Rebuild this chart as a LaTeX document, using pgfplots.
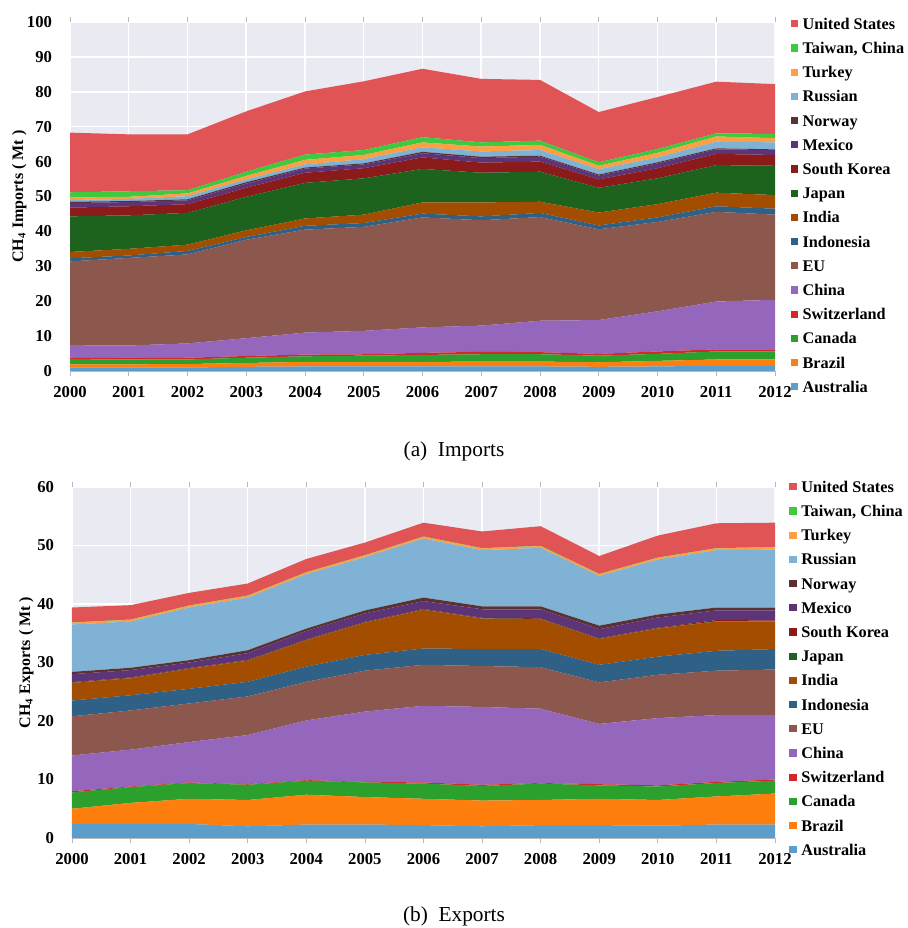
\documentclass[border=0pt]{standalone}
\usepackage{pgfplots}
\pgfplotsset{compat=1.18}
\usepackage{pgfplotstable}
\usepackage{fontspec}
\setmainfont{Liberation Serif}

% Layer colours
\definecolor{cAus}{HTML}{5B9DCB}
\definecolor{cBra}{HTML}{FF7F0E}
\definecolor{cCan}{HTML}{2CA02C}
\definecolor{cSwi}{HTML}{D62728}
\definecolor{cChn}{HTML}{9467BD}
\definecolor{cEU}{HTML}{8C574C}
\definecolor{cIdn}{HTML}{2E6185}
\definecolor{cInd}{HTML}{A34D00}
\definecolor{cJpn}{HTML}{1D621D}
\definecolor{cKor}{HTML}{8B1A1A}
\definecolor{cMex}{HTML}{5E3479}
\definecolor{cNor}{HTML}{5A3232}
\definecolor{cRus}{HTML}{7FB2D5}
\definecolor{cTur}{HTML}{FCA043}
\definecolor{cTwn}{HTML}{3FC93F}
\definecolor{cUSA}{HTML}{E15456}
\definecolor{bgc}{HTML}{EAEAF2}

% CH4 imports by importer (Mt), layer thickness per year
\pgfplotstableread{
year aus bra can swi chn eu idn ind jpn kor mex nor rus tur twn usa
2000 1.0 0.9 1.5 0.4 3.6 24.0 0.9 1.8 10.2 2.5 1.3 0.4 0.5 0.7 1.5 17.1
2001 1.0 0.9 1.4 0.4 3.6 25.1 0.7 1.9 9.6 2.6 1.2 0.3 0.6 0.6 1.6 16.3
2002 1.0 1.0 1.3 0.5 4.1 25.5 1.0 1.8 9.1 2.5 1.1 0.3 0.9 0.8 0.9 16.0
2003 1.2 1.1 1.5 0.5 5.1 28.2 0.8 1.9 9.6 2.6 1.2 0.4 0.8 1.0 1.2 17.3
2004 1.3 1.3 1.6 0.5 6.3 29.5 1.1 2.1 10.2 2.9 1.2 0.3 0.9 1.3 1.5 18.1
2005 1.3 1.3 1.8 0.4 6.7 29.8 1.1 2.4 10.4 2.9 1.1 0.3 1.2 1.2 1.4 19.7
2006 1.3 1.3 2.0 0.6 7.3 31.5 1.1 3.2 9.6 3.3 1.2 0.4 1.3 1.4 1.5 19.6
2007 1.3 1.4 2.1 0.7 7.5 30.2 1.1 4.0 8.5 2.9 1.3 0.4 1.5 1.4 1.2 18.2
2008 1.3 1.4 2.1 0.6 9.0 29.7 1.2 3.2 8.6 2.9 1.4 0.3 1.6 1.5 1.2 17.4
2009 1.2 1.3 1.9 0.5 9.7 26.0 1.1 3.7 7.1 2.4 1.1 0.3 1.5 1.0 1.0 14.4
2010 1.3 1.6 2.0 0.7 11.5 25.6 1.3 3.8 7.4 2.9 1.4 0.3 1.4 1.3 1.1 14.9
2011 1.5 1.8 2.3 0.6 13.7 25.7 1.6 3.9 7.9 3.2 1.3 0.3 1.9 1.5 0.9 14.8
2012 1.5 1.8 2.3 0.6 14.2 24.4 1.7 3.9 8.4 3.1 1.4 0.2 2.0 1.2 1.2 14.3
}\imports

% CH4 exports by exporter (Mt), layer thickness per year
\pgfplotstableread{
year aus bra can swi chn eu idn ind jpn kor mex nor rus tur twn usa
2000 2.4 2.6 2.8 0.2 6.1 6.7 2.7 3.0 0.05 0.10 1.35 0.4 8.1 0.3 0.05 2.55
2001 2.4 3.6 2.7 0.1 6.3 6.7 2.6 2.9 0.05 0.10 1.25 0.4 7.9 0.3 0.05 2.45
2002 2.4 4.3 2.7 0.1 6.9 6.6 2.5 3.4 0.05 0.10 0.95 0.4 9.0 0.3 0.05 2.15
2003 2.0 4.5 2.6 0.1 8.4 6.6 2.5 3.6 0.05 0.10 1.15 0.5 9.0 0.3 0.05 2.05
2004 2.3 5.1 2.4 0.1 10.2 6.6 2.6 4.5 0.05 0.10 1.45 0.4 9.3 0.3 0.05 2.25
2005 2.3 4.7 2.5 0.1 12.0 7.0 2.7 5.5 0.05 0.10 1.45 0.5 9.1 0.3 0.05 2.15
2006 2.2 4.5 2.6 0.2 13.1 7.0 2.8 6.6 0.05 0.10 1.35 0.6 10.1 0.3 0.05 2.35
2007 2.0 4.4 2.5 0.2 13.3 7.0 2.9 5.2 0.05 0.10 1.45 0.5 9.6 0.3 0.05 2.85
2008 2.2 4.3 2.8 0.1 12.7 7.1 3.1 5.1 0.05 0.10 1.55 0.5 10.0 0.3 0.05 3.35
2009 2.2 4.5 2.3 0.2 10.3 7.1 3.0 4.4 0.05 0.10 1.55 0.6 8.5 0.3 0.05 3.05
2010 2.1 4.4 2.3 0.2 11.5 7.4 3.1 4.8 0.05 0.10 1.75 0.5 9.4 0.3 0.05 3.75
2011 2.3 4.8 2.3 0.2 11.4 7.6 3.4 5.0 0.05 0.20 1.65 0.5 9.8 0.3 0.05 4.25
2012 2.3 5.3 2.2 0.2 11.0 7.8 3.5 4.7 0.05 0.15 1.70 0.5 9.9 0.4 0.05 4.15
}\exports

% all sixteen stacked layers of one table
\newcommand{\layers}[1]{%
  \addplot[fill=cAus] table[x=year,y=aus]{#1} \closedcycle;
  \addplot[fill=cBra] table[x=year,y=bra]{#1} \closedcycle;
  \addplot[fill=cCan] table[x=year,y=can]{#1} \closedcycle;
  \addplot[fill=cSwi] table[x=year,y=swi]{#1} \closedcycle;
  \addplot[fill=cChn] table[x=year,y=chn]{#1} \closedcycle;
  \addplot[fill=cEU]  table[x=year,y=eu]{#1}  \closedcycle;
  \addplot[fill=cIdn] table[x=year,y=idn]{#1} \closedcycle;
  \addplot[fill=cInd] table[x=year,y=ind]{#1} \closedcycle;
  \addplot[fill=cJpn] table[x=year,y=jpn]{#1} \closedcycle;
  \addplot[fill=cKor] table[x=year,y=kor]{#1} \closedcycle;
  \addplot[fill=cMex] table[x=year,y=mex]{#1} \closedcycle;
  \addplot[fill=cNor] table[x=year,y=nor]{#1} \closedcycle;
  \addplot[fill=cRus] table[x=year,y=rus]{#1} \closedcycle;
  \addplot[fill=cTur] table[x=year,y=tur]{#1} \closedcycle;
  \addplot[fill=cTwn] table[x=year,y=twn]{#1} \closedcycle;
  \addplot[fill=cUSA] table[x=year,y=usa]{#1} \closedcycle;
  \legend{Australia,Brazil,Canada,Switzerland,China,EU,Indonesia,India,Japan,South Korea,Mexico,Norway,Russian,Turkey,{Taiwan, China},United States}
}

\pgfplotsset{
  areastyle/.style={
    scale only axis,
    stack plots=y,
    area legend,
    every axis plot/.append style={draw=none},
    xmin=2000, xmax=2012,
    xtick={2000,...,2012},
    minor x tick num=1,
    ymin=0,
    axis background/.style={fill=bgc},
    grid=major,
    grid style={white, line width=1.1pt},
    axis line style={draw=none},
    tick align=outside,
    major tick length=4pt,
    minor tick length=4pt,
    xtick style={gray!55, line width=0.5pt},
    minor x tick style={gray!55, line width=0.5pt},
    ytick style={draw=none},
    /pgf/number format/assume math mode=true,
    /pgf/number format/1000 sep={},
    tick label style={font=\bfseries\fontsize{12.5}{14}\selectfont},
    yticklabel style={xshift=-6pt},
    xticklabel style={yshift=-4pt},
    reverse legend,
    legend cell align=left,
    legend style={draw=none, fill=none, inner sep=0pt, row sep=7.15pt,
      font=\bfseries\fontsize{12.2}{14}\selectfont,
      /tikz/every odd column/.append style={column sep=3.5pt},
      nodes={inner sep=0pt, text height=8.5pt, text depth=2.5pt}},
    legend image code/.code={\fill[#1] (0pt,-1.6pt) rectangle (5.5pt,3.9pt);},
    after end axis/.code={\draw[gray!55, line width=0.5pt] (rel axis cs:0,0) -- (rel axis cs:1,0);},
  }
}

\begin{document}
\begin{tikzpicture}[x=0.75pt, y=0.75pt]
\path[use as bounding box] (0,0) rectangle (907,928);

% (a) imports
\begin{axis}[areastyle,
  at={(52.5pt,417.75pt)}, anchor=south west,
  width=528.75pt, height=261.75pt,
  ymax=100, ytick distance=10,
  ylabel={CH\textsubscript{4} Imports ( Mt )},
  every axis y label/.style={at={(axis description cs:-0.072,0.5)}, rotate=90, anchor=center,
    font=\bfseries\fontsize{12}{14}\selectfont},
  legend style={at={(1,1)}, anchor=north west, xshift=11.5pt, yshift=3.2pt},
]
\layers{\imports}
\end{axis}
\node[font=\fontsize{16}{18}\selectfont, anchor=base] at (454,928-457) {(a)\enspace Imports};

% (b) exports
\begin{axis}[areastyle,
  at={(54pt,67.5pt)}, anchor=south west,
  width=527.25pt, height=263.25pt,
  ymax=60, ytick distance=10,
  ylabel={CH\textsubscript{4} Exports ( Mt )},
  every axis y label/.style={at={(axis description cs:-0.065,0.5)}, rotate=90, anchor=center,
    font=\bfseries\fontsize{12}{14}\selectfont},
  legend style={at={(1,1)}, anchor=north west, xshift=10.5pt, yshift=4.7pt},
]
\layers{\exports}
\end{axis}
\node[font=\fontsize{16}{18}\selectfont, anchor=base] at (454,928-921) {(b)\enspace Exports};
\end{tikzpicture}
\end{document}
